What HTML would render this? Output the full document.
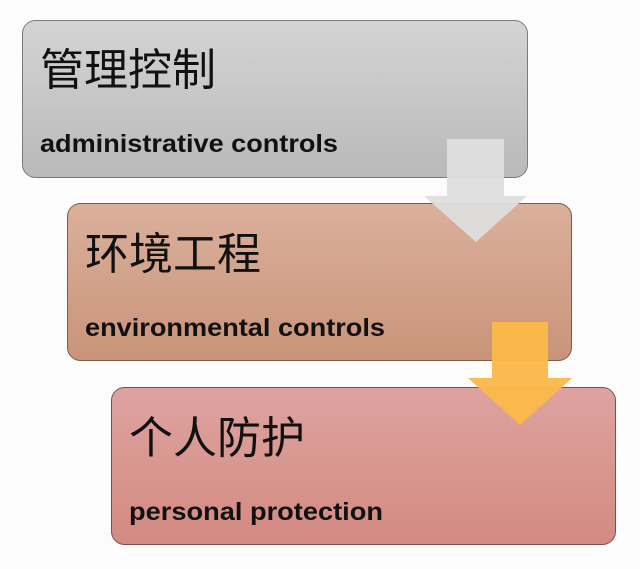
<!DOCTYPE html>
<html><head><meta charset="utf-8"><style>
html,body{margin:0;padding:0;background:#fdfcfd;}
svg{display:block}
.zh{font-family:"Liberation Sans","Noto Sans CJK SC",sans-serif;font-size:44px;fill:#111}
.en{font-family:"Liberation Sans",sans-serif;font-weight:bold;font-size:25px;fill:#111}
</style></head><body>
<svg width="640" height="569" viewBox="0 0 640 569" xmlns="http://www.w3.org/2000/svg">
<defs>
<linearGradient id="g1" x1="0" y1="0" x2="0" y2="1"><stop offset="0" stop-color="#d4d4d4"/><stop offset="1" stop-color="#b9b9b9"/></linearGradient>
<linearGradient id="g2" x1="0" y1="0" x2="0" y2="1"><stop offset="0" stop-color="#dbb09b"/><stop offset="1" stop-color="#c99479"/></linearGradient>
<linearGradient id="g3" x1="0" y1="0" x2="0" y2="1"><stop offset="0" stop-color="#dea3a0"/><stop offset="1" stop-color="#d38a80"/></linearGradient>
</defs>
<rect x="22.5" y="20.5" width="505" height="157" rx="13" fill="url(#g1)" stroke="#7a7a7a" stroke-width="1"/>
<text class="zh" x="40" y="85">管理控制</text>
<text class="en" x="40" y="152" textLength="298" lengthAdjust="spacingAndGlyphs">administrative controls</text>
<rect x="67.5" y="203.5" width="504" height="157" rx="13" fill="url(#g2)" stroke="#7a5a4a" stroke-width="1"/>
<polygon points="447,139 504,139 504,196 527,196 476,242 424,196 447,196" fill="#dedede" fill-opacity="0.95"/>
<text class="zh" x="85" y="269">环境工程</text>
<text class="en" x="85" y="336" textLength="300" lengthAdjust="spacingAndGlyphs">environmental controls</text>
<rect x="111.5" y="387.5" width="504" height="157" rx="13" fill="url(#g3)" stroke="#7a5050" stroke-width="1"/>
<polygon points="492,322 548,322 548,378 572,378 520,425 468,378 492,378" fill="#fbb94a" fill-opacity="0.97"/>
<text class="zh" x="129" y="453">个人防护</text>
<text class="en" x="129" y="520" textLength="254" lengthAdjust="spacingAndGlyphs">personal protection</text>
</svg>
</body></html>
